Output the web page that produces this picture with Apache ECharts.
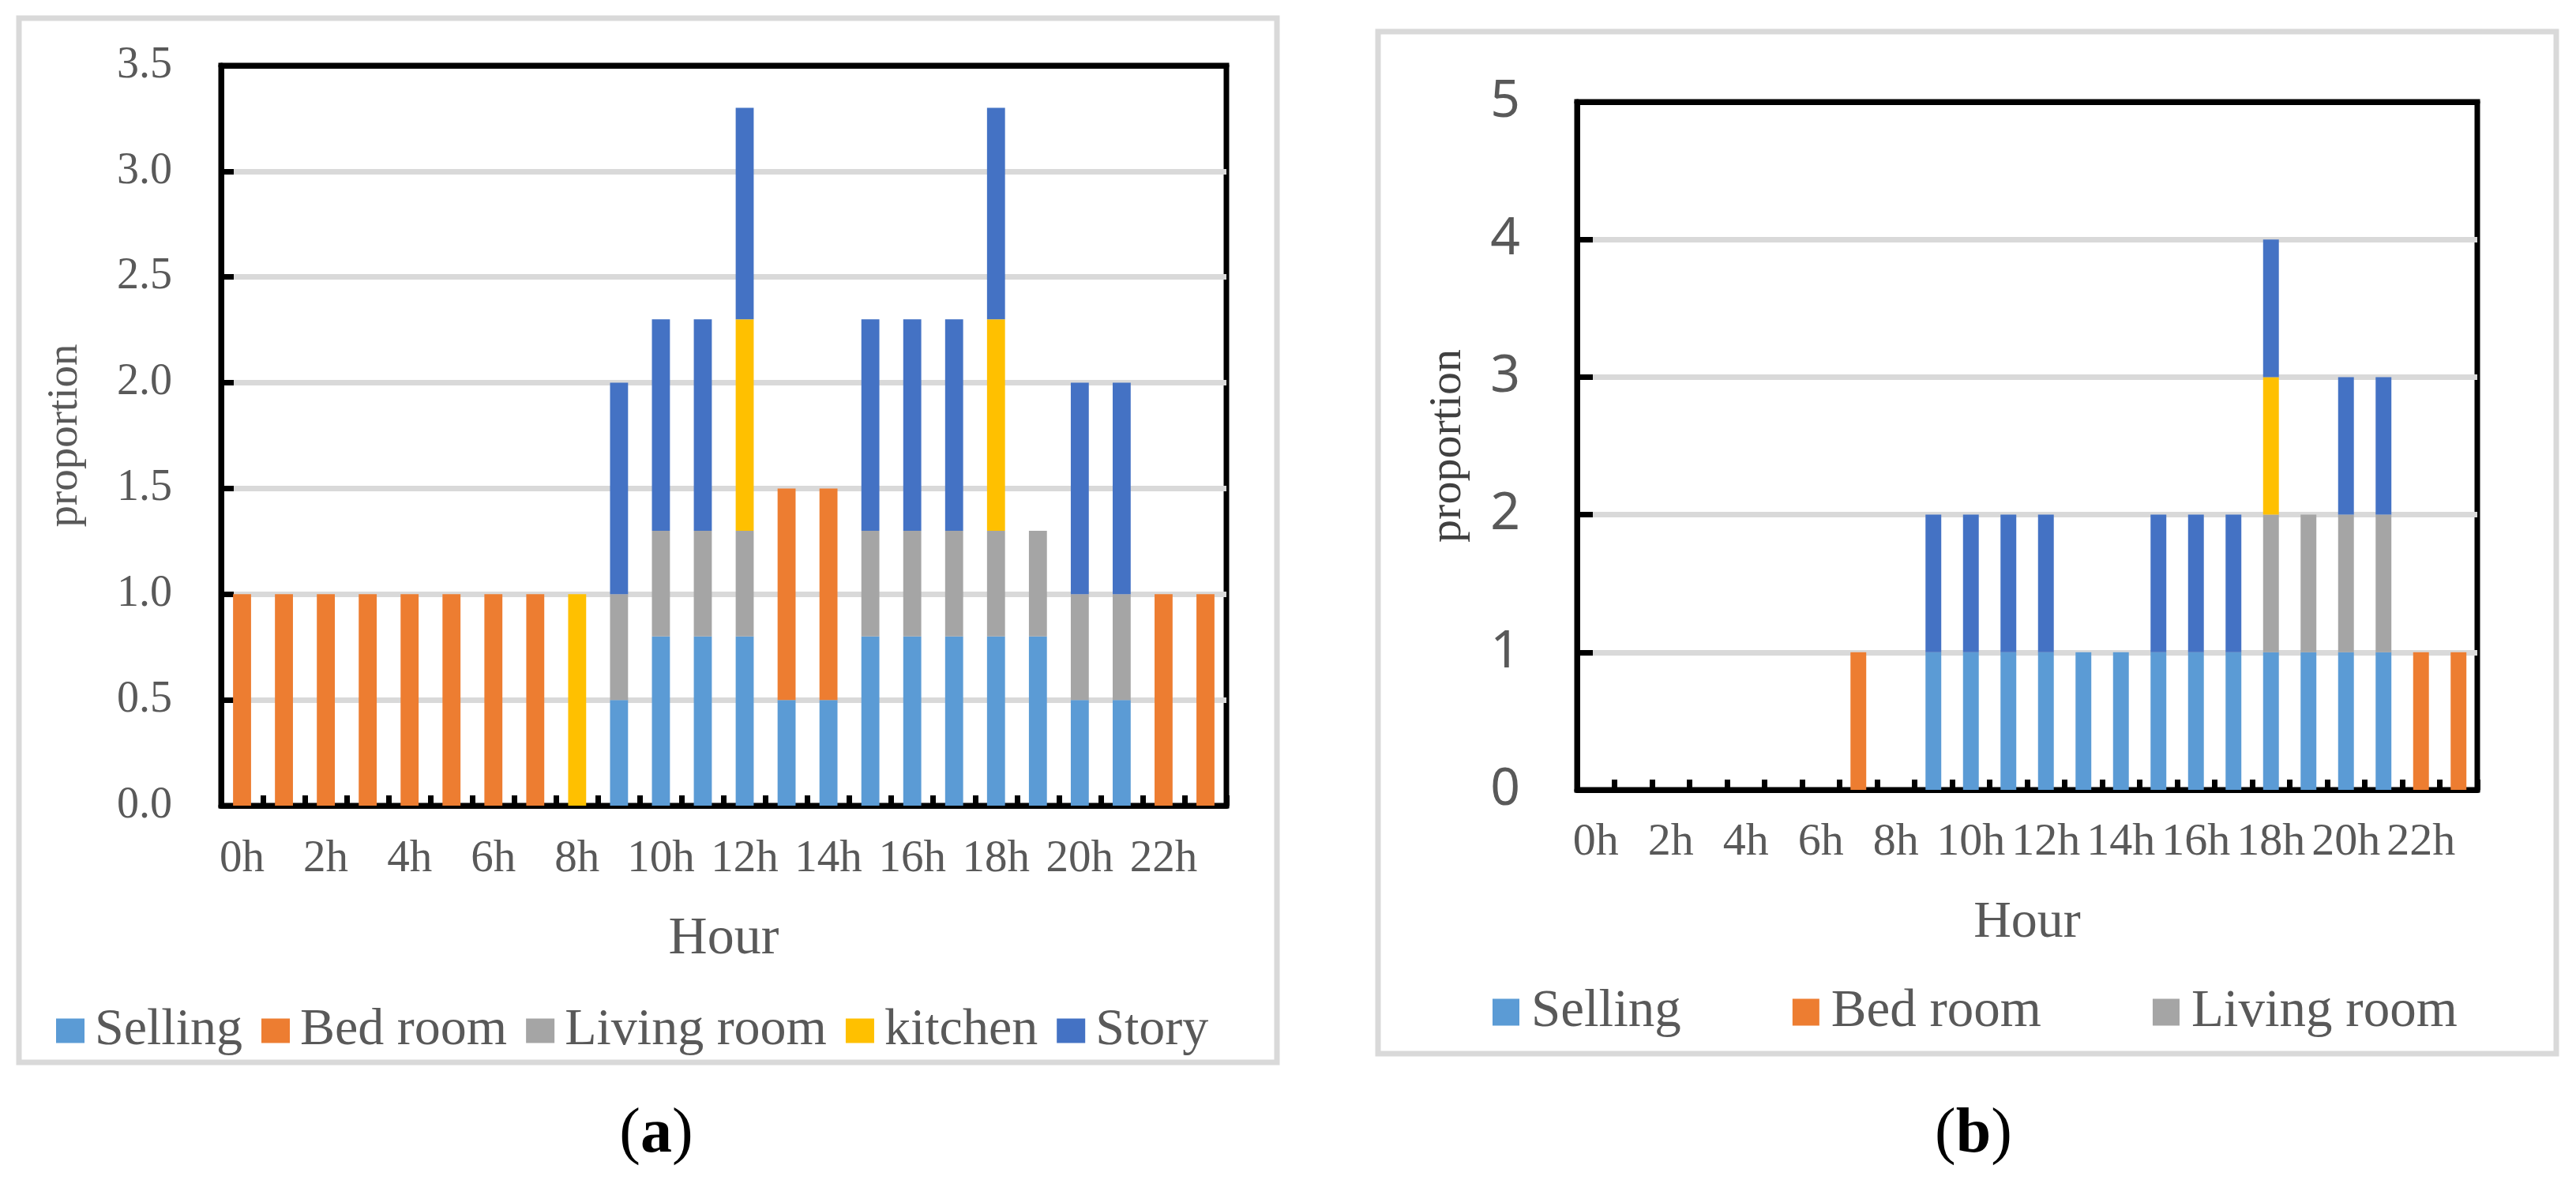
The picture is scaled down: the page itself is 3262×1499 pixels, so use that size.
<!DOCTYPE html>
<html>
<head>
<meta charset="utf-8">
<script src="https://cdn.jsdelivr.net/npm/echarts@6/dist/echarts.min.js"></script>
<style>
html,body{margin:0;padding:0;background:#fff;}
#c{width:3262px;height:1499px;}
</style>
</head>
<body>
<div id="c"></div>
<script>
// ---- data ----
const hours = ['0h','1h','2h','3h','4h','5h','6h','7h','8h','9h','10h','11h','12h','13h','14h','15h','16h','17h','18h','19h','20h','21h','22h','23h'];
const seriesNames = ['Selling','Bed room','Living room','kitchen','Story'];
const legendNamesB = ['Selling','Bed room','Living room'];

// panel (a)
const sellingA = [0,0,0,0,0,0,0,0,0,0.5,0.8,0.8,0.8,0.5,0.5,0.8,0.8,0.8,0.8,0.8,0.5,0.5,0,0];
const bedA     = [1,1,1,1,1,1,1,1,0,0,0,0,0,1,1,0,0,0,0,0,0,0,1,1];
const livingA  = [0,0,0,0,0,0,0,0,0,0.5,0.5,0.5,0.5,0,0,0.5,0.5,0.5,0.5,0.5,0.5,0.5,0,0];
const kitchenA = [0,0,0,0,0,0,0,0,1,0,0,0,1,0,0,0,0,0,1,0,0,0,0,0];
const storyA   = [0,0,0,0,0,0,0,0,0,1,1,1,1,0,0,1,1,1,1,0,1,1,0,0];

// panel (b)
const sellingB = [0,0,0,0,0,0,0,0,0,1,1,1,1,1,1,1,1,1,1,1,1,1,0,0];
const bedB     = [0,0,0,0,0,0,0,1,0,0,0,0,0,0,0,0,0,0,0,0,0,0,1,1];
const livingB  = [0,0,0,0,0,0,0,0,0,0,0,0,0,0,0,0,0,0,1,1,1,1,0,0];
const kitchenB = [0,0,0,0,0,0,0,0,0,0,0,0,0,0,0,0,0,0,1,0,0,0,0,0];
const storyB   = [0,0,0,0,0,0,0,0,0,1,1,1,1,0,0,1,1,1,1,0,1,1,0,0];

const yTicksA = [0,0.5,1,1.5,2,2.5,3,3.5];
const yTicksB = [0,1,2,3,4,5];

const colors = ['#5B9BD5','#ED7D31','#A5A5A5','#FFC000','#4472C4'];
const serif = '"Liberation Serif","Times New Roman",serif';
const sans = '"Noto Sans","Open Sans",sans-serif';
const txt = '#595959';

const dataA = [sellingA, bedA, livingA, kitchenA, storyA];
const dataB = [sellingB, bedB, livingB, kitchenB, storyB];

function mkSeries(dataSets, idx, stack, bw){
  return seriesNames.map((n,i)=>({
    name:n, type:'bar', stack:stack, xAxisIndex:idx, yAxisIndex:idx,
    barWidth:bw, data:dataSets[i], itemStyle:{color:colors[i]},
    emphasis:{disabled:true}, animation:false
  }));
}

function xAx(gi, fs, margin, nameGap, nameFs){
  return {
    type:'category', gridIndex:gi, data:hours, boundaryGap:true, position:'bottom',
    name:'Hour', nameLocation:'middle', nameGap:nameGap,
    nameTextStyle:{fontFamily:serif, fontSize:nameFs, color:txt},
    axisLine:{show:true, lineStyle:{color:'#000', width:7}},
    axisTick:{show:true, inside:true, length:13, interval:0, alignWithLabel:false, lineStyle:{color:'#000', width:7}},
    axisLabel:{interval:1, fontFamily:serif, fontSize:fs, color:txt, margin:margin},
    splitLine:{show:false}
  };
}
function topAx(gi){
  return {
    type:'category', gridIndex:gi, data:hours, position:'top', boundaryGap:true,
    axisLine:{show:true, onZero:false, lineStyle:{color:'#000', width:7}},
    axisTick:{show:false}, axisLabel:{show:false}, splitLine:{show:false}
  };
}

const option = {
  backgroundColor:'#fff',
  animation:false,
  color:colors,
  graphic:[
    {type:'rect', shape:{x:24,y:23,width:1593,height:1322}, style:{fill:'none', stroke:'#D9D9D9', lineWidth:7}, silent:true},
    {type:'rect', shape:{x:1745,y:40,width:1492,height:1294}, style:{fill:'none', stroke:'#D9D9D9', lineWidth:7}, silent:true},
    {type:'text', x:831, y:1437, style:{text:'{p|(}{b|a}{p|)}', align:'center', verticalAlign:'middle',
      rich:{p:{fontFamily:serif, fontSize:80, fill:'#000'}, b:{fontFamily:serif, fontSize:80, fontWeight:'bold', fill:'#000'}}}, silent:true},
    {type:'text', x:2499, y:1437, style:{text:'{p|(}{b|b}{p|)}', align:'center', verticalAlign:'middle',
      rich:{p:{fontFamily:serif, fontSize:80, fill:'#000'}, b:{fontFamily:serif, fontSize:80, fontWeight:'bold', fill:'#000'}}}, silent:true}
  ],
  legend:[
    {data:seriesNames, left:71, top:1272, padding:0, itemGap:24, itemWidth:36, itemHeight:31, icon:'rect',
     textStyle:{fontFamily:serif, fontSize:66, color:txt, padding:[0,0,0,8]}, selectedMode:false},
    {data:legendNamesB, left:1890, top:1248, padding:0, itemGap:141, itemWidth:34, itemHeight:34, icon:'rect',
     textStyle:{fontFamily:serif, fontSize:67, color:txt, padding:[0,0,0,10]}, selectedMode:false}
  ],
  grid:[
    {left:280, top:83, width:1273, height:937, show:true, borderColor:'#000', borderWidth:7, backgroundColor:'transparent', containLabel:false},
    {left:1997, top:129, width:1140, height:871, show:true, borderColor:'#000', borderWidth:7, backgroundColor:'transparent', containLabel:false}
  ],
  xAxis:[ xAx(0,57,40,135,68), xAx(1,58,38,136,66), topAx(0), topAx(1) ],
  yAxis:[
    {type:'value', gridIndex:0, min:yTicksA[0], max:yTicksA[yTicksA.length-1], interval:0.5,
     name:'proportion', nameLocation:'middle', nameGap:170, nameRotate:90,
     nameTextStyle:{fontFamily:serif, fontSize:55, color:txt},
     axisLine:{show:true, lineStyle:{color:'#000', width:7}},
     axisTick:{show:true, inside:true, length:16, lineStyle:{color:'#000', width:7}},
     axisLabel:{fontFamily:serif, fontSize:56, color:txt, margin:62, formatter:v=>v.toFixed(1)},
     splitLine:{show:true, showMaxLine:false, showMinLine:false, lineStyle:{color:'#D9D9D9', width:7}}},
    {type:'value', gridIndex:1, min:yTicksB[0], max:yTicksB[yTicksB.length-1], interval:1,
     name:'proportion', nameLocation:'middle', nameGap:134, nameRotate:90,
     nameTextStyle:{fontFamily:serif, fontSize:58, color:'#404040'},
     axisLine:{show:true, lineStyle:{color:'#000', width:7}},
     axisTick:{show:true, inside:true, length:20, lineStyle:{color:'#000', width:7}},
     axisLabel:{fontFamily:sans, fontSize:66, color:txt, margin:72},
     splitLine:{show:true, showMaxLine:false, showMinLine:false, lineStyle:{color:'#D9D9D9', width:7}}}
  ],
  series:[].concat(mkSeries(dataA,0,'a','43%'), mkSeries(dataB,1,'b','42%'))
};

const chart = echarts.init(document.getElementById('c'), null, {renderer:'canvas'});
chart.setOption(option);
</script>
</body>
</html>
